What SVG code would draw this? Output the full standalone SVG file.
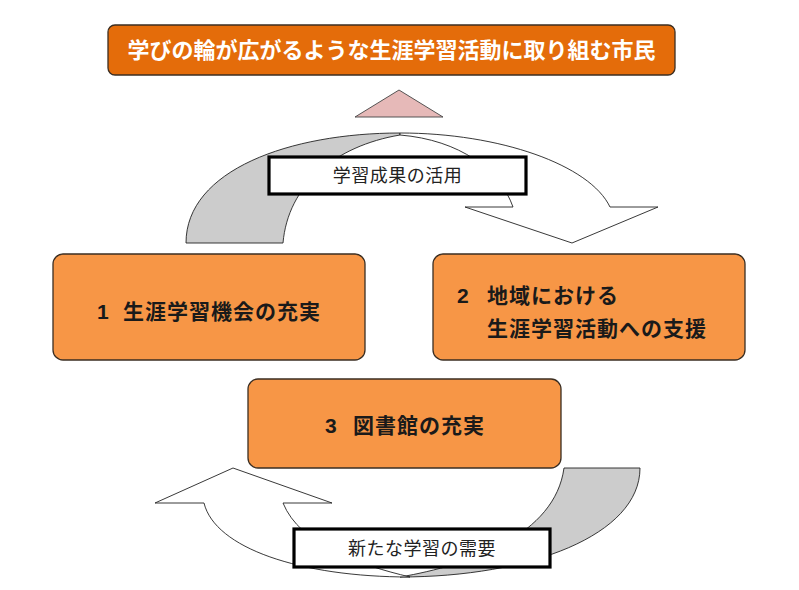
<svg xmlns="http://www.w3.org/2000/svg" width="799" height="590" viewBox="0 0 799 590">
<style>
.box{fill:#F79646;stroke:#3b2e22;stroke-width:1.3}
.title{fill:#E46C0A;stroke:#3b2e22;stroke-width:1.3}
.bt{font-family:"Noto Sans CJK JP","Noto Sans",sans-serif;font-weight:bold;font-size:21px;letter-spacing:1px;fill:#1a1a1a}
.dg{font-family:"Liberation Sans",Arial,sans-serif;font-weight:bold;font-size:21px;fill:#1a1a1a}
.tt{font-family:"Noto Sans CJK JP","Noto Sans",sans-serif;font-weight:bold;font-size:22px;fill:#ffffff}
.lb{fill:#ffffff;stroke:#000;stroke-width:3.2}
.lt{font-family:"Noto Sans CJK JP","Noto Sans",sans-serif;font-size:18px;letter-spacing:0.5px;fill:#222}
.gray{fill:#CCCCCC;stroke:#222;stroke-width:0.9}
.white{fill:#ffffff;stroke:#222;stroke-width:0.9}
</style>
<rect width="799" height="590" fill="#ffffff"/>
<g id="top">
<rect class="title" x="108" y="25" width="567" height="50" rx="7"/>
<text class="tt" x="391.5" y="58" text-anchor="middle">学びの輪が広がるような生涯学習活動に取り組む市民</text>
</g>
<g id="triangle">
<polygon points="399,90 443,117 355,117" fill="#E6B9B8" stroke="#444" stroke-width="0.9"/>
</g>
<g id="connectors">
<path class="gray" d="M186,243 C186,170 290,133 400,133 L400,135 C335,146 288,185 283,243 Z"/>
<path class="white" d="M400,133 C500,133 590,165 610,207 L658,207 L572,243 L465,207 L513,207 C500,170 460,140 400,135 Z"/>
<path class="gray" d="M640,468 C640,535 530,577 400,577 C470,565 555,535 564,468 Z"/>
<path class="white" d="M283,503 L332,503 L233,468 L155,503 L204,503 C215,548 300,577 410,577 C360,565 300,545 283,503 Z"/>
</g>
<g id="label1">
<rect class="lb" x="269" y="157" width="257" height="37"/>
<text class="lt" x="397.5" y="182" text-anchor="middle">学習成果の活用</text>
</g>
<g id="label2">
<rect class="lb" x="294" y="529" width="256" height="38"/>
<text class="lt" x="422" y="555" text-anchor="middle">新たな学習の需要</text>
</g>
<g id="box1">
<rect class="box" x="53" y="254" width="312" height="106" rx="10"/>
<text class="dg" x="97" y="319">1</text>
<text class="bt" x="123" y="319">生涯学習機会の充実</text>
</g>
<g id="box2">
<rect class="box" x="433" y="254" width="312" height="106" rx="10"/>
<text class="dg" x="457" y="303">2</text>
<text class="bt" x="487" y="303">地域における</text>
<text class="bt" x="487" y="336">生涯学習活動への支援</text>
</g>
<g id="box3">
<rect class="box" x="248" y="379" width="313" height="89" rx="10"/>
<text class="dg" x="325" y="433">3</text>
<text class="bt" x="353" y="433">図書館の充実</text>
</g>
</svg>
